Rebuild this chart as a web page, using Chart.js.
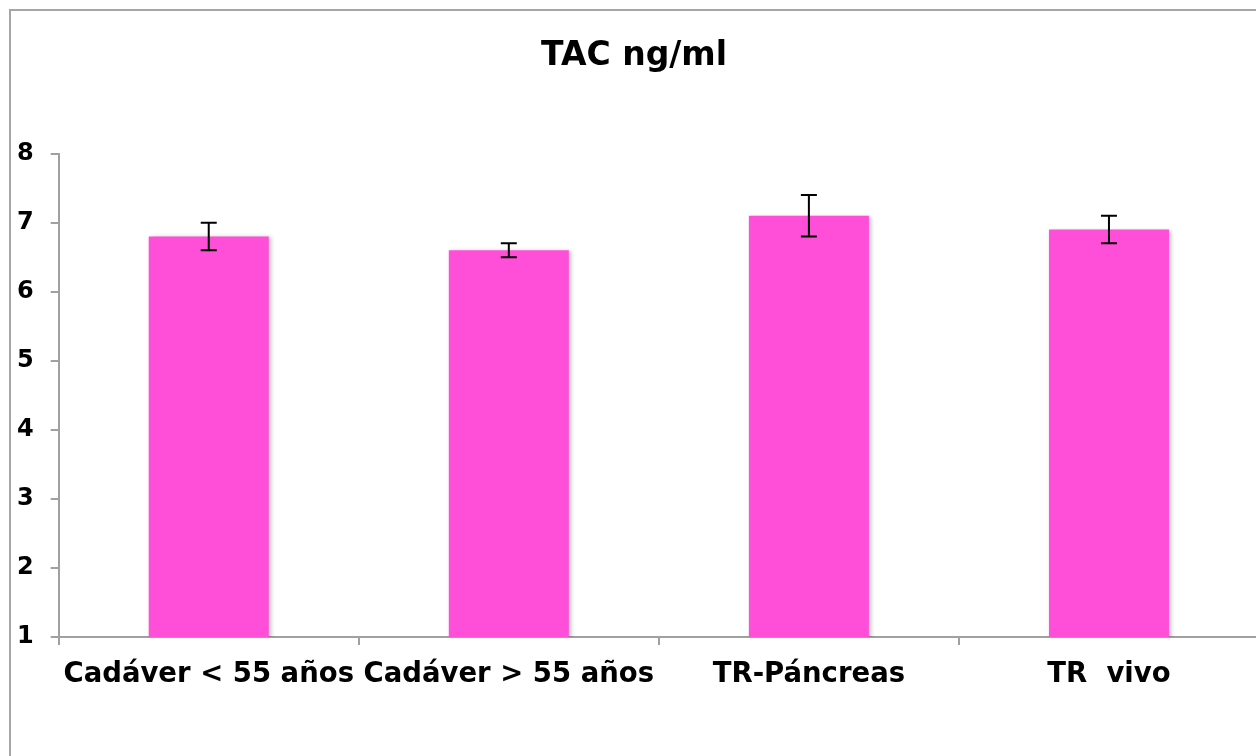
<!DOCTYPE html>
<html>
<head>
<meta charset="utf-8">
<script src="https://cdn.jsdelivr.net/npm/chart.js@4/dist/chart.umd.min.js"></script>
<style>
  html, body { margin: 0; padding: 0; background: #fff; overflow: hidden; }
  #wrap { position: relative; width: 1256px; height: 756px; overflow: hidden; }
  #frame { position: absolute; left: 9px; top: 9px; width: 1300px; height: 800px; border: 2px solid #a6a6a6; }
  #holder { position: absolute; left: 0; top: 0; width: 1268px; height: 756px; }
</style>
</head>
<body>
<div id="wrap">
  <div id="frame"></div>
  <div id="holder"><canvas id="tacChart"></canvas></div>
</div>
<script>
const categories = ['Cadáver < 55 años', 'Cadáver > 55 años', 'TR-Páncreas', 'TR  vivo'];
const tacValues = [6.8, 6.6, 7.1, 6.9];
const tacErrors = [0.2, 0.1, 0.3, 0.2];
const yTicks = [1, 2, 3, 4, 5, 6, 7, 8];

const axisGray = '#a0a0a0';
const fontFamily = '"DejaVu Sans", Verdana, sans-serif';

// error bars + a soft shadow under the bars
const errorBars = {
    id: 'errorBars',
    beforeDatasetsDraw(chart) {
        const ctx = chart.ctx;
        ctx.save();
        ctx.shadowColor = 'rgba(0,0,0,0.25)';
        ctx.shadowBlur = 4;
        ctx.shadowOffsetX = 2;
        ctx.shadowOffsetY = 1;
    },
    afterDatasetsDraw(chart) {
        const ctx = chart.ctx;
        ctx.restore();
        const meta = chart.getDatasetMeta(0);
        const y = chart.scales.y;
        ctx.save();
        ctx.strokeStyle = '#000';
        ctx.lineWidth = 2;
        meta.data.forEach((bar, i) => {
            const v = tacValues[i], e = tacErrors[i];
            const top = y.getPixelForValue(v + e);
            const bot = y.getPixelForValue(v - e);
            const x = bar.x;
            ctx.beginPath();
            ctx.moveTo(x, top); ctx.lineTo(x, bot);
            ctx.moveTo(x - 8, top); ctx.lineTo(x + 8, top);
            ctx.moveTo(x - 8, bot); ctx.lineTo(x + 8, bot);
            ctx.stroke();
        });
        ctx.restore();
    }
};

new Chart(document.getElementById('tacChart'), {
    type: 'bar',
    data: {
        labels: categories,
        datasets: [{
            data: tacValues,
            backgroundColor: '#ff4fd8',
            borderWidth: 0,
            barPercentage: 1,
            categoryPercentage: 0.4
        }]
    },
    options: {
        responsive: true,
        maintainAspectRatio: false,
        animation: false,
        layout: { padding: { left: 0, right: 0, top: 0, bottom: 52 } },
        plugins: {
            legend: { display: false },
            tooltip: { enabled: false },
            title: {
                display: true,
                text: 'TAC ng/ml',
                color: '#000',
                font: { family: fontFamily, weight: 'bold', size: 33 },
                padding: { top: 37, bottom: 77 }
            }
        },
        scales: {
            x: {
                grid: { display: true, drawOnChartArea: false, offset: true, color: axisGray, tickLength: 8, lineWidth: 2 },
                border: { color: axisGray, width: 2 },
                ticks: { color: '#000', font: { family: fontFamily, weight: 'bold', size: 27.5 }, padding: 13, maxRotation: 0, autoSkip: false },
                afterFit(scale) { scale.paddingLeft = 0; scale.paddingRight = 9; }
            },
            y: {
                min: 1,
                max: 8,
                afterBuildTicks(axis) { axis.ticks = yTicks.map(v => ({ value: v })); },
                grid: { display: true, drawOnChartArea: false, color: axisGray, tickLength: 8, lineWidth: 2 },
                border: { color: axisGray, width: 2 },
                ticks: { color: '#000', font: { family: fontFamily, weight: 'bold', size: 24 }, padding: 17 }
            }
        }
    },
    plugins: [errorBars]
});
</script>
</body>
</html>
